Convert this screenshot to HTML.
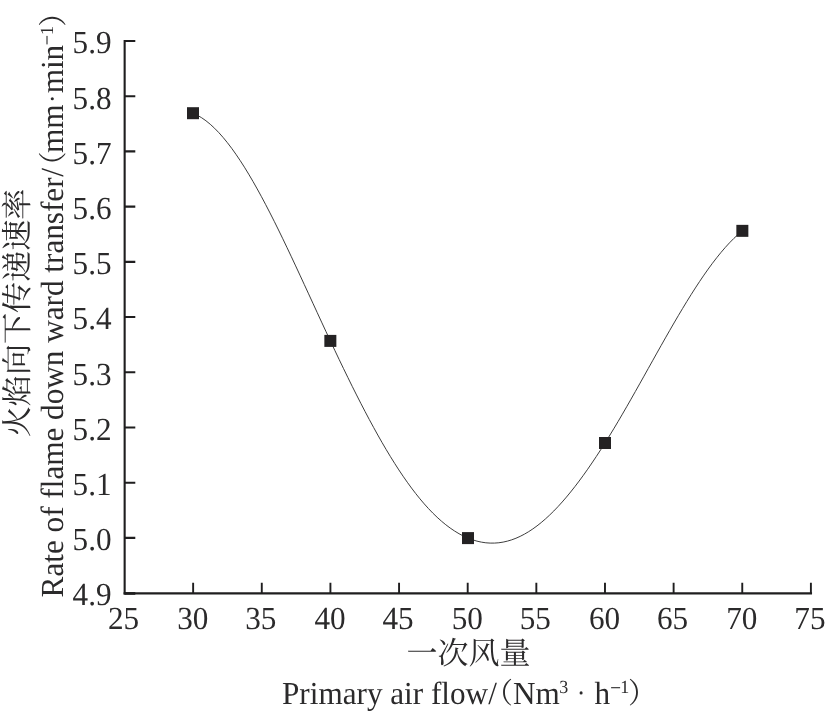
<!DOCTYPE html>
<html lang="zh"><head><meta charset="utf-8"><title>Rate of flame downward transfer vs primary air flow</title>
<style>html,body{margin:0;padding:0;background:#fff}body{width:827px;height:723px;overflow:hidden}svg{display:block;will-change:transform}text{font-family:"Liberation Serif","Noto Serif CJK SC",serif;fill:#2b2a2b;text-rendering:geometricPrecision}</style></head><body>
<svg width="827" height="723" viewBox="0 0 827 723">
<rect width="827" height="723" fill="#fff"/>
<g stroke="#1f1e1f" fill="none" stroke-linecap="butt">
<path d="M124.65 39.90 V594.60" stroke-width="2.1"/>
<path d="M123.60 593.40 H812.05" stroke-width="2.4"/>
<path d="M124.70 41.00 H135.30M124.70 96.21 H135.30M124.70 151.42 H135.30M124.70 206.63 H135.30M124.70 261.84 H135.30M124.70 317.05 H135.30M124.70 372.26 H135.30M124.70 427.47 H135.30M124.70 482.68 H135.30M124.70 537.89 H135.30" stroke-width="2.1"/>
<path d="M193.14 593.10 V582.70M261.78 593.10 V582.70M330.42 593.10 V582.70M399.06 593.10 V582.70M467.70 593.10 V582.70M536.34 593.10 V582.70M604.98 593.10 V582.70M673.62 593.10 V582.70M742.26 593.10 V582.70M810.90 593.10 V582.70" stroke-width="1.9"/>
<path d="M124.70 593.45 H135.30" stroke-width="2.7"/>
</g>
<g font-size="31.20">
<text transform="translate(111.60 53.30) scale(1 1.030)" text-anchor="end">5.9</text>
<text transform="translate(111.60 108.51) scale(1 1.030)" text-anchor="end">5.8</text>
<text transform="translate(111.60 163.72) scale(1 1.030)" text-anchor="end">5.7</text>
<text transform="translate(111.60 218.93) scale(1 1.030)" text-anchor="end">5.6</text>
<text transform="translate(111.60 274.14) scale(1 1.030)" text-anchor="end">5.5</text>
<text transform="translate(111.60 329.35) scale(1 1.030)" text-anchor="end">5.4</text>
<text transform="translate(111.60 384.56) scale(1 1.030)" text-anchor="end">5.3</text>
<text transform="translate(111.60 439.77) scale(1 1.030)" text-anchor="end">5.2</text>
<text transform="translate(111.60 494.98) scale(1 1.030)" text-anchor="end">5.1</text>
<text transform="translate(111.60 550.19) scale(1 1.030)" text-anchor="end">5.0</text>
<text transform="translate(111.60 605.40) scale(1 1.030)" text-anchor="end">4.9</text>
<text transform="translate(123.50 629.00) scale(1 1.030)" text-anchor="middle">25</text>
<text transform="translate(192.74 629.00) scale(1 1.030)" text-anchor="middle">30</text>
<text transform="translate(260.78 629.00) scale(1 1.030)" text-anchor="middle">35</text>
<text transform="translate(330.02 629.00) scale(1 1.030)" text-anchor="middle">40</text>
<text transform="translate(398.06 629.00) scale(1 1.030)" text-anchor="middle">45</text>
<text transform="translate(467.30 629.00) scale(1 1.030)" text-anchor="middle">50</text>
<text transform="translate(535.34 629.00) scale(1 1.030)" text-anchor="middle">55</text>
<text transform="translate(604.58 629.00) scale(1 1.030)" text-anchor="middle">60</text>
<text transform="translate(672.62 629.00) scale(1 1.030)" text-anchor="middle">65</text>
<text transform="translate(741.86 629.00) scale(1 1.030)" text-anchor="middle">70</text>
<text transform="translate(809.90 629.00) scale(1 1.030)" text-anchor="middle">75</text>
</g>
<path d="M193.00 113.20 C239.24 131.96 283.56 241.20 330.35 340.90 C377.80 442.01 419.74 518.13 468.00 538.10 C516.18 558.04 558.23 517.27 605.00 443.00 C651.52 369.14 696.73 267.54 742.35 230.85" fill="none" stroke="#333" stroke-width="0.95"/>
<rect x="187.00" y="107.20" width="12" height="12" fill="#242223"/>
<rect x="324.35" y="334.90" width="12" height="12" fill="#242223"/>
<rect x="462.00" y="532.10" width="12" height="12" fill="#242223"/>
<rect x="599.00" y="437.00" width="12" height="12" fill="#242223"/>
<rect x="736.35" y="224.85" width="12" height="12" fill="#242223"/>
<text x="406.55" y="664.35" font-size="31" fill="#2b2a2b">一次风量</text>
<g font-size="31.20">
<text transform="translate(282.00 703.70) scale(1 1.030)">Primary air flow/</text>
<text x="484.56" y="703.32" font-size="28.5">（</text>
<text transform="translate(512.90 703.70) scale(1 1.030)">Nm</text>
<text transform="translate(559.30 692.90) scale(1 1.030)" font-size="18.0">3</text>
<circle cx="581.10" cy="692.90" r="1.55" fill="#2b2a2b"/>
<text transform="translate(594.40 703.70) scale(1 1.030)">h</text>
<rect x="611.10" y="687.15" width="9.00" height="1.10" fill="#2b2a2b"/>
<text transform="translate(620.30 692.90) scale(1 1.030)" font-size="18.0">1</text>
<text x="628.01" y="703.32" font-size="28.5">）</text>
</g>
<g transform="rotate(-90)">
<text x="-437.30" y="27.60" font-size="31.1" fill="#2b2a2b">火焰向下传递速率</text>
<g font-size="31.20">
<text transform="translate(-597.40 63.10) scale(1 1.030)">Rate of flame down ward transfer</text>
<text transform="translate(-176.80 63.10) scale(1 1.030)">/</text>
<text x="-180.11" y="62.92" font-size="28.5">（</text>
<text transform="translate(-153.00 63.10) scale(1 1.030)">mm</text>
<circle cx="-98.70" cy="52.30" r="1.55" fill="#2b2a2b"/>
<text transform="translate(-93.30 63.10) scale(1 1.030)">min</text>
<rect x="-44.40" y="46.45" width="8.50" height="1.10" fill="#2b2a2b"/>
<text transform="translate(-35.10 52.90) scale(1 1.030)" font-size="18.0">1</text>
<text x="-26.66" y="62.92" font-size="28.5">）</text>
</g></g>
</svg></body></html>
